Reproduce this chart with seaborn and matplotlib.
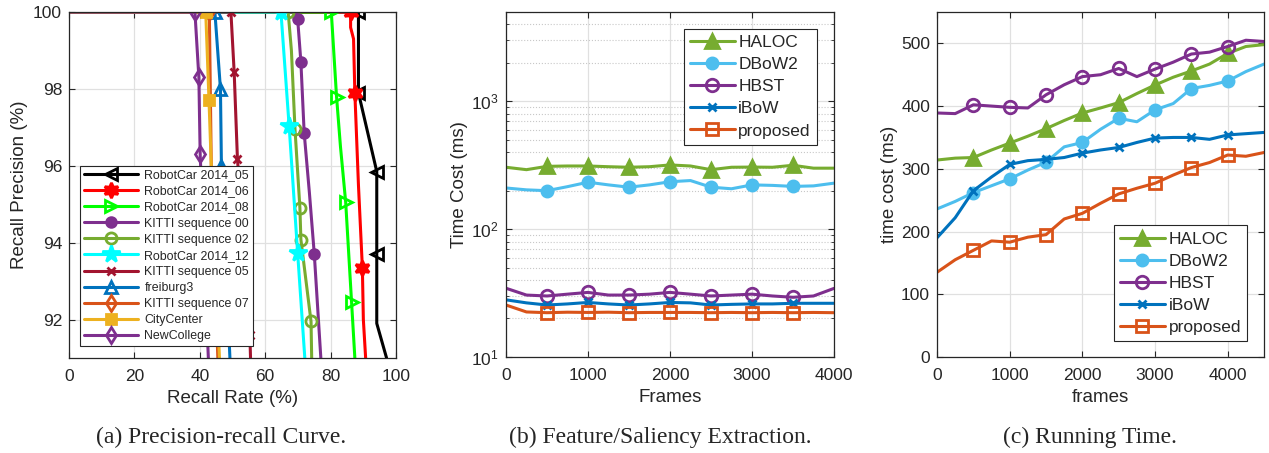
import numpy as np
import pandas as pd
import matplotlib
matplotlib.use('Agg')
import matplotlib.pyplot as plt
import seaborn as sns

# (a) precision-recall curves
pr_names = ['RobotCar 2014_05', 'RobotCar 2014_06', 'RobotCar 2014_08', 'KITTI sequence 00',
            'KITTI sequence 02', 'RobotCar 2014_12', 'KITTI sequence 05', 'freiburg3',
            'KITTI sequence 07', 'CityCenter', 'NewCollege']
pr_recall = [
    [0, 88.5, 88.5, 94.1, 94.1, 94.1, 97.1],
    [0, 86.1, 86.1, 87.0, 87.4, 88.5, 89.7, 90.0, 90.7],
    [0, 80.2, 81.8, 83.0, 84.6, 86.4, 87.4],
    [0, 69.5, 69.9, 70.9, 71.9, 73.5, 75.0, 77.0],
    [0, 67.0, 68.0, 69.1, 70.6, 70.9, 74.0, 74.2],
    [0, 64.8, 67.3, 69.9, 72.1],
    [0, 49.5, 50.5, 51.5, 53.5, 55.3, 55.5],
    [0, 44.6, 46.3, 46.6, 49.2],
    [0, 42.9, 43.5, 45.5],
    [0, 41.8, 42.8, 43.5, 46.0],
    [0, 38.5, 39.7, 40.1, 42.6],
]
pr_precision = [
    [100, 100, 97.9, 95.85, 93.7, 91.9, 91.0],
    [100, 100, 99.6, 99.3, 97.9, 95.5, 93.35, 92.0, 91.0],
    [100, 100, 97.8, 96.5, 95.05, 92.45, 91.0],
    [100, 100, 99.83, 98.7, 96.86, 95.3, 93.7, 91.0],
    [100, 100, 99.0, 96.95, 94.9, 94.08, 91.95, 91.0],
    [100, 100, 97.04, 93.74, 91.0],
    [100, 100, 98.43, 96.17, 94.0, 91.6, 91.0],
    [100, 100, 98.0, 96.0, 91.0],
    [100, 100, 96.0, 91.0],
    [100, 100, 97.7, 96.0, 91.0],
    [100, 100, 98.3, 96.3, 91.0],
]
pr_marks = [[1, 2, 3, 4], [1, 4, 6], [1, 2, 4, 5], [2, 3, 4, 6], [1, 3, 4, 5, 6],
            [1, 2, 3], [1, 2, 3, 5], [1, 2, 3], [1], [1, 2], [1, 2, 3]]

# (b) feature / saliency extraction time (ms)
frames_b = [0, 250, 500, 750, 1000, 1250, 1500, 1750, 2000, 2250, 2500, 2750, 3000, 3250, 3500, 3750, 4000]
haloc_b = [305, 292, 310, 312, 312, 308, 305, 308, 318, 312, 292, 305, 306, 305, 316, 300, 300]
dbow_b = [210, 203, 200, 215, 233, 222, 213, 222, 235, 240, 213, 207, 222, 220, 216, 218, 229]
hbst_b = [34.5, 30.5, 30, 31, 32, 30.5, 30.5, 31, 32, 31, 30, 30.5, 31, 30, 29.3, 30, 34.4]
ibow_b = [28, 26.5, 25.5, 26, 26.7, 26, 25.5, 26, 26.7, 26.5, 25.5, 25.8, 26, 26, 26.3, 26.3, 26.3]
prop_b = [25.5, 22.5, 22.2, 22.4, 22.3, 22.4, 22.2, 22.3, 22.3, 22.3, 22.2, 22.3, 22.2, 22.3, 22.2, 22.3, 22.2]

# (c) running time (ms)
frames_c = [0, 250, 500, 750, 1000, 1250, 1500, 1750, 2000, 2250, 2500, 2750, 3000, 3250, 3500, 3750, 4000, 4250, 4500]
haloc_c = [314, 317, 318, 330, 341, 352, 364, 377, 389, 397, 405.5, 420, 433.6, 446, 456, 467, 484, 495, 498]
dbow_c = [236, 248, 262, 273, 284, 298, 310.5, 335, 342, 363, 380.6, 375, 394, 404, 428, 433, 440, 455, 467]
hbst_c = [389, 388, 402, 400, 398, 397, 418, 434, 447, 450, 460, 447, 459, 470, 483, 486, 495, 505, 503]
ibow_c = [190, 222, 265, 287, 307, 313, 315, 318, 325, 330, 334, 342, 349, 350, 350, 347, 354, 356, 358]
prop_c = [135, 155, 170, 185, 183, 191, 195, 220, 229, 245, 260, 269, 277, 290, 302, 310, 322, 320, 326]

method_names = ['HALOC', 'DBoW2', 'HBST', 'iBoW', 'proposed']

sns.set_style('whitegrid')
plt.rcParams['font.family'] = ['Liberation Sans', 'DejaVu Sans']
plt.rcParams['xtick.direction'] = 'in'
plt.rcParams['ytick.direction'] = 'in'
plt.rcParams['xtick.top'] = True
plt.rcParams['ytick.right'] = True
plt.rcParams['xtick.bottom'] = True
plt.rcParams['ytick.left'] = True
plt.rcParams['axes.edgecolor'] = '#262626'

txt = '#262626'
fig = plt.figure(figsize=(12.69, 4.53), dpi=100)
ax1 = fig.add_axes([0.0544, 0.2097, 0.2577, 0.7638])
ax2 = fig.add_axes([0.3987, 0.2120, 0.2585, 0.7615])
ax3 = fig.add_axes([0.7384, 0.2120, 0.2577, 0.7615])

# panel a
pr_colors = ['k', '#FF0000', '#00FF00', '#7E2F8E', '#77AC30', '#00FFFF', '#A2142F',
             '#0072BD', '#D95319', '#EDB120', '#7E2F8E']
pr_markers = ['<', (6, 1, 0), '>', 'o', 'o', '*', 'x', '^', 'd', 's', 'd']
pr_fill = [False, True, False, True, False, True, True, False, False, True, False]
pr_ms = [9, 11, 9, 7, 8, 13, 6, 9, 8, 7, 8]
for i, name in enumerate(pr_names):
    d = pd.DataFrame({'recall': pr_recall[i], 'precision': pr_precision[i]})
    sns.lineplot(data=d, x='recall', y='precision', sort=False, estimator=None, ax=ax1,
                 color=pr_colors[i], lw=2.2, marker=pr_markers[i], markevery=pr_marks[i],
                 ms=pr_ms[i], mew=2, mec=pr_colors[i],
                 mfc=pr_colors[i] if pr_fill[i] else 'none', label=name)
ax1.set_xlim(0, 100)
ax1.set_ylim(91, 100)
ax1.set_xticks([0, 20, 40, 60, 80, 100])
ax1.set_yticks([92, 94, 96, 98, 100])
ax1.set_xlabel('Recall Rate (%)', fontsize=13.5, color=txt, labelpad=4)
ax1.set_ylabel('Recall Precision (%)', fontsize=13.5, color=txt, labelpad=4)
leg = ax1.legend(loc='lower left', bbox_to_anchor=(0.034, 0.035), fontsize=8.9, handlelength=4.4,
                 labelspacing=0.33, borderpad=0.3, handletextpad=0.5, fancybox=False,
                 framealpha=1, edgecolor='#262626', borderaxespad=0)
leg.get_frame().set_linewidth(0.8)

# panel b and c
m_colors = ['#77AC30', '#4DBEEE', '#7E2F8E', '#0072BD', '#D95319']
m_markers = ['^', 'o', 'o', 'x', 's']
m_fill = [True, True, False, True, False]
m_ms = [10, 8, 9, 6, 8]
series_b = [haloc_b, dbow_b, hbst_b, ibow_b, prop_b]
series_c = [haloc_c, dbow_c, hbst_c, ibow_c, prop_c]
for i, name in enumerate(method_names):
    kw = dict(color=m_colors[i], lw=2.2, marker=m_markers[i], ms=m_ms[i], mew=2,
              mec=m_colors[i], mfc=m_colors[i] if m_fill[i] else 'none', label=name)
    sns.lineplot(x=frames_b, y=series_b[i], ax=ax2, markevery=list(range(2, 15, 2)), **kw)
    sns.lineplot(x=frames_c, y=series_c[i], ax=ax3, markevery=list(range(2, 17, 2)), **kw)

ax2.set_yscale('log')
ax2.set_xlim(0, 4000)
ax2.set_ylim(10, 5000)
ax2.set_xticks([0, 1000, 2000, 3000, 4000])
ax2.grid(which='minor', axis='y', linestyle=':', color='#c8c8c8', lw=0.8)
ax2.set_xlabel('Frames', fontsize=13.5, color=txt, labelpad=4)
ax2.set_ylabel('Time Cost (ms)', fontsize=13.5, color=txt, labelpad=2)

ax3.set_xlim(0, 4500)
ax3.set_ylim(0, 550)
ax3.set_xticks([0, 1000, 2000, 3000, 4000])
ax3.set_yticks([0, 100, 200, 300, 400, 500])
ax3.set_xlabel('frames', fontsize=13.5, color=txt, labelpad=4)
ax3.set_ylabel('time cost (ms)', fontsize=13.5, color=txt, labelpad=2)

for ax, loc, anchor in [(ax2, 'upper right', (0.948, 0.951)), (ax3, 'lower right', (0.948, 0.046))]:
    lg = ax.legend(loc=loc, bbox_to_anchor=anchor, fontsize=12.5, handlelength=2.6,
                   labelspacing=0.4, borderpad=0.35, handletextpad=0.2, fancybox=False,
                   framealpha=1, edgecolor='#262626', borderaxespad=0)
    lg.get_frame().set_linewidth(0.8)

for ax in [ax1, ax2, ax3]:
    ax.grid(which='major', color='#e0e0e0', lw=0.9, linestyle='-')
    ax.tick_params(labelsize=12.5, colors=txt, length=4, width=0.8)
    ax.tick_params(axis='x', pad=8)
    ax.tick_params(axis='y', pad=5)
    ax.tick_params(which='minor', length=2, colors=txt)
    for s in ax.spines.values():
        s.set_visible(True)
        s.set_color('#262626')
        s.set_linewidth(0.9)
    ax.set_axisbelow(True)

cap_font = ['Liberation Serif', 'DejaVu Serif']
fig.text(0.174, 0.035, '(a) Precision-recall Curve.', ha='center', va='center', fontsize=17, family=cap_font)
fig.text(0.520, 0.035, '(b) Feature/Saliency Extraction.', ha='center', va='center', fontsize=17, family=cap_font)
fig.text(0.859, 0.035, '(c) Running Time.', ha='center', va='center', fontsize=17, family=cap_font)

fig.savefig('out.png', dpi=100)
